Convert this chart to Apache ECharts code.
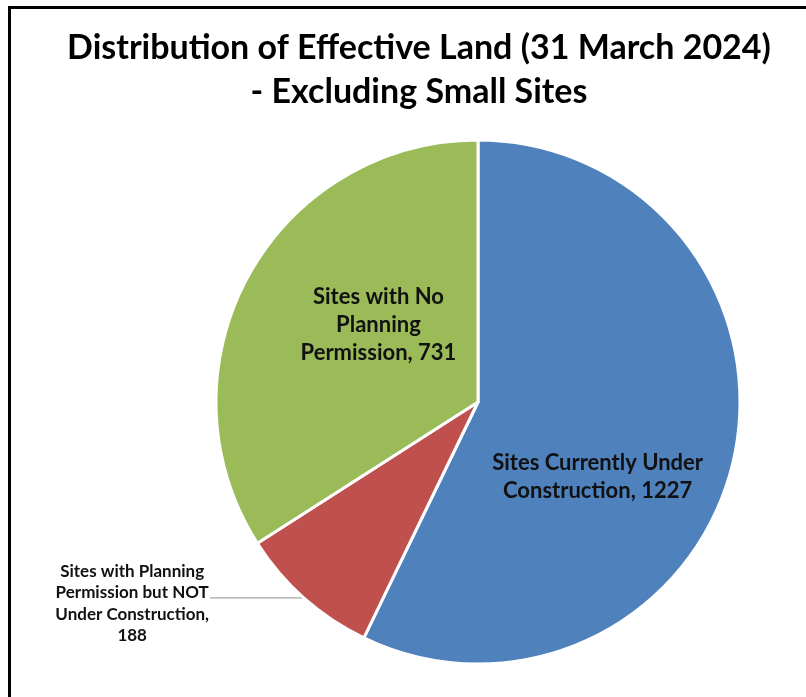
<!DOCTYPE html>
<html>
<head>
<meta charset="utf-8">
<script src="https://cdn.jsdelivr.net/npm/echarts@6/dist/echarts.min.js"></script>
<style>
  html, body { margin: 0; padding: 0; background: #fff; }
  #chart { width: 806px; height: 697px; }
  .frame { position: absolute; left: 8px; top: 6px; right: 0; bottom: 0;
           border-top: 3px solid #000; border-left: 3px solid #000; pointer-events: none; }
</style>
</head>
<body>
<div id="chart"></div>
<div class="frame"></div>
<script>
  // data
  var categories = [
    'Sites Currently Under\nConstruction',
    'Sites with Planning\nPermission but NOT\nUnder Construction',
    'Sites with No\nPlanning\nPermission'
  ];
  var values = [1227, 188, 731];
  var colors = ['#4F81BD', '#C0504D', '#9BBB59'];

  // nudges for the inside labels (dx, dy) from the default spot
  var labelNudge = { 0: [-11, 45], 2: [18, -13] };

  var chart = echarts.init(document.getElementById('chart'));

  var pieData = values.map(function (v, i) {
    return { name: categories[i], value: v, itemStyle: { color: colors[i] } };
  });

  // small slice gets its label outside with a leader line
  pieData[1].label = {
    position: 'outside',
    fontSize: 17,
    lineHeight: 21.5,
    padding: [11, 0, 0, 0],
    distanceToLabelLine: 1,
    formatter: function (p) {
      var lines = (p.name + ',\n' + p.value).split('\n');
      return lines.map(function (l) { return '{c|' + l + '}'; }).join('\n');
    },
    rich: { c: { align: 'center', fontSize: 17, lineHeight: 21.5, fontWeight: 'bold', fontFamily: 'Lato', color: '#111' } }
  };
  pieData[1].labelLine = { show: true, length: 0, length2: 94, lineStyle: { color: '#8c8c8c', width: 1 } };

  var option = {
    animation: false,
    backgroundColor: '#fff',
    title: {
      text: 'Distribution of Effective Land (31 March 2024)\n- Excluding Small Sites',
      left: 419,
      top: 26,
      padding: 0,
      textAlign: 'center',
      textStyle: {
        fontFamily: 'Lato',
        fontWeight: 'bold',
        fontSize: 34,
        lineHeight: 44,
        color: '#000'
      }
    },
    series: [{
      type: 'pie',
      center: [478, 402],
      radius: 262,
      startAngle: 90,
      clockwise: true,
      avoidLabelOverlap: false,
      itemStyle: { borderColor: '#fff', borderWidth: 3 },
      label: {
        show: true,
        position: 'inner',
        formatter: '{b}, {c}',
        fontFamily: 'Lato',
        fontWeight: 'bold',
        fontSize: 22,
        lineHeight: 28,
        color: '#111',
        align: 'center'
      },
      labelLine: { show: false },
      labelLayout: function (params) {
        var n = labelNudge[params.dataIndex];
        if (n) return { dx: n[0], dy: n[1] };
        return {};
      },
      data: pieData
    }]
  };

  chart.setOption(option);
</script>
</body>
</html>
